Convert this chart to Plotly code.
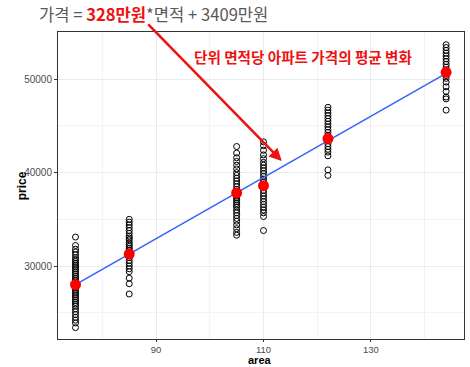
import plotly.graph_objects as go

areas = [75, 85, 105, 110, 122, 144]
price_75 = [33100, 32200, 31800, 31500, 31200, 30900, 30700, 30500, 30300, 30100, 29900, 29700, 29500, 29300, 29100,
            28900, 28700, 28500, 28300, 28100, 27900, 27700, 27500, 27300, 27100, 26900, 26700, 26500, 26300, 26100,
            25900, 25700, 25400, 25100, 24800, 24500, 24200, 23900, 23400]
price_85 = [35000, 34700, 34400, 34100, 33800, 33500, 33200, 33000, 32800, 32500, 32300, 32100, 31900, 31700, 31500,
            31300, 31100, 30900, 30600, 30300, 30000, 29700, 29400, 28700, 28100, 27000]
price_105 = [42800, 42100, 41600, 41200, 40800, 40400, 40000, 39700, 39400, 39100, 38800, 38500, 38200, 37900, 37700,
             37500, 37300, 37100, 36900, 36700, 36500, 36300, 36000, 35700, 35400, 35100, 34800, 34400, 34000, 33600, 33300]
price_110 = [43300, 42900, 42400, 41900, 41500, 41100, 40800, 40500, 40200, 39900, 39600, 39300, 39000, 38700, 38400,
             38100, 37800, 37500, 37200, 36900, 36600, 36300, 36000, 35700, 35300, 33800]
price_122 = [47000, 46700, 46400, 46100, 45800, 45500, 45200, 44900, 44600, 44300, 44000, 43700, 43400, 43100, 42800,
             42500, 42200, 41800, 40300, 39700]
price_144 = [53700, 53400, 53100, 52800, 52500, 52200, 51900, 51600, 51300, 51000, 50700, 50400, 50100, 49700, 49200,
             48700, 48100, 47900, 46700]
group_prices = [price_75, price_85, price_105, price_110, price_122, price_144]
mean_prices = [28000, 31280, 37830, 38600, 43650, 50750]
slope = 328
intercept = 3409
x_ticks = [90, 110, 130]
y_ticks = [30000, 40000, 50000]
y_tick_labels = ["30000", "40000", "50000"]

xs, ys = [], []
for a, ps in zip(areas, group_prices):
    xs += [a] * len(ps)
    ys += ps

fig = go.Figure()
fig.add_trace(go.Scatter(x=xs, y=ys, mode="markers",
                         marker=dict(symbol="circle-open", size=6, color="black", line=dict(width=1)),
                         showlegend=False, hoverinfo="skip"))
line_x = [areas[0], areas[-1]]
fig.add_trace(go.Scatter(x=line_x, y=[slope * v + intercept for v in line_x], mode="lines",
                         line=dict(color="#3366FF", width=1.6), showlegend=False, hoverinfo="skip"))
fig.add_trace(go.Scatter(x=areas, y=mean_prices, mode="markers",
                         marker=dict(size=11, color="#FF0000"), showlegend=False, hoverinfo="skip"))

fig.update_layout(
    width=470, height=367,
    margin=dict(l=58, r=6, t=32, b=28, autoexpand=False),
    paper_bgcolor="white", plot_bgcolor="white",
    font=dict(family="Liberation Sans, Arial, sans-serif"),
    xaxis=dict(range=[71.74, 147.33], tickvals=x_ticks, ticks="outside", ticklen=2, tickcolor="#333333",
               tickfont=dict(size=9.5, color="#4d4d4d"), showgrid=True, gridcolor="#ebebeb", gridwidth=1,
               minor=dict(tickvals=[80, 100, 120, 140], showgrid=True, gridcolor="#f3f3f3", gridwidth=0.6),
               showline=True, linecolor="#333333", linewidth=1, mirror=True, zeroline=False, automargin=False),
    yaxis=dict(range=[22180, 55067], tickvals=y_ticks, ticktext=y_tick_labels, ticks="outside", ticklen=3,
               tickcolor="#333333",
               tickfont=dict(size=10, color="#4d4d4d"), showgrid=True, gridcolor="#ebebeb", gridwidth=1,
               minor=dict(tickvals=[25000, 35000, 45000], showgrid=True, gridcolor="#f3f3f3", gridwidth=0.6),
               showline=True, linecolor="#333333", linewidth=1, mirror=True, zeroline=False, automargin=False),
)

fig.add_annotation(xref="paper", yref="paper", x=0.498, y=-0.070, xanchor="center", yanchor="middle",
                   showarrow=False, borderpad=0, text="<b>area</b>", font=dict(size=11, color="black"))
fig.add_annotation(xref="paper", yref="paper", x=-0.089, y=0.50, xanchor="center", yanchor="middle", showarrow=False,
                   textangle=-90, text="<b>price</b>", font=dict(size=12, color="black"))
fig.add_annotation(
    xref="paper", yref="paper", x=-0.052, y=1.058, xanchor="left", yanchor="middle", showarrow=False,
    text="가격 = <span style='color:#EE1111'><b>328만원</b></span>*면적 + 3409만원",
    font=dict(family="Noto Sans CJK KR", size=16.6, color="#595959"))
fig.add_annotation(
    xref="paper", yref="paper", x=0.604, y=0.919, xanchor="center", yanchor="middle", showarrow=False,
    text="<b>단위 면적당 아파트 가격의 평균 변화</b>",
    font=dict(family="Noto Sans CJK KR", size=14.6, color="#EE1111"))
fig.add_annotation(
    x=113.4, y=41250, xref="x", yref="y", text="", showarrow=True,
    ax=-135, ay=-138, arrowcolor="#EE1111", arrowwidth=2.5, arrowhead=2, arrowsize=1, standoff=0)

fig.write_html("out.html", config={"displayModeBar": False},
               post_script="document.body.style.margin='0px';")
